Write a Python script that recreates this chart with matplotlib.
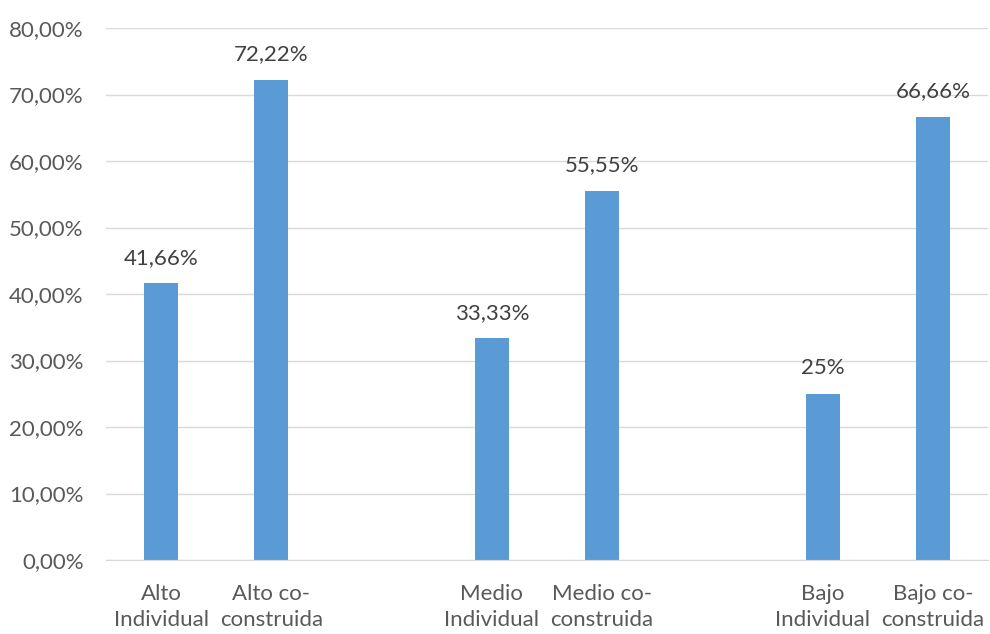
import matplotlib.pyplot as plt
from matplotlib.ticker import FuncFormatter

# one slot per category, empty slots keep the gap between levels
etiquetas = ['Alto\nIndividual', 'Alto co-\nconstruida', '',
             'Medio\nIndividual', 'Medio co-\nconstruida', '',
             'Bajo\nIndividual', 'Bajo co-\nconstruida']
valores = [41.66, 72.22, None, 33.33, 55.55, None, 25.0, 66.66]
textos = ['41,66%', '72,22%', '', '33,33%', '55,55%', '', '25%', '66,66%']

plt.rcParams['font.family'] = ['Lato', 'DejaVu Sans']
gris = '#595959'

fig = plt.figure(figsize=(9.9, 6.34), dpi=100)
ax = fig.add_axes([0.107, 0.1167, 0.891, 0.8391])

xs = [i for i, v in enumerate(valores) if v is not None]
ys = [v for v in valores if v is not None]
bars = ax.bar(xs, ys, width=0.31, color='#5B9BD5', zorder=3)
for x, v, t in zip(xs, ys, [t for t in textos if t]):
    ax.text(x, v + 2.3, t, ha='center', va='bottom', fontsize=16, color='#404040')

ax.set_xlim(-0.5, 7.5)
ax.set_ylim(0, 80)
ax.set_yticks(range(0, 81, 10))
ax.yaxis.set_major_formatter(FuncFormatter(lambda v, p: f'{v:.2f}%'.replace('.', ',')))
ax.set_xticks(range(len(etiquetas)))
ax.set_xticklabels(etiquetas, fontsize=16, color=gris, linespacing=1.4)
ax.tick_params(axis='y', labelsize=16, labelcolor=gris, length=0, pad=16)
ax.tick_params(axis='x', length=0, pad=17)
ax.grid(axis='y', color='#D9D9D9', linewidth=1, zorder=0)
for s in ['top', 'right', 'left']:
    ax.spines[s].set_visible(False)
ax.spines['bottom'].set_color('#D9D9D9')
ax.spines['bottom'].set_zorder(4)

fig.savefig('out.png', dpi=100)
